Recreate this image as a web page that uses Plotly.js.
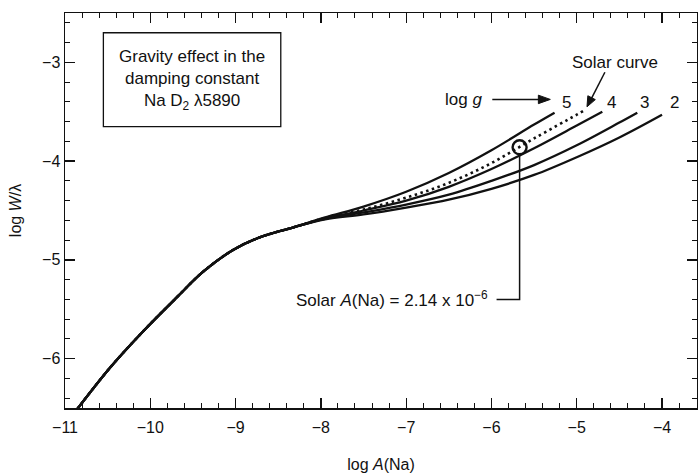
<!DOCTYPE html>
<html>
<head>
<meta charset="utf-8">
<script src="https://cdn.plot.ly/plotly-3.0.1.min.js"></script>
<style>html,body{margin:0;padding:0;background:#fff}#chart{width:698px;height:473px}</style>
</head>
<body>
<div id="chart"></div>
<script>
// Common part of the curve of growth (all log g coincide)
const xCommon = [-10.9, -10.47, -10.08, -9.69, -9.38, -9.03, -8.71, -8.32];
const yCommon = [-6.56, -6.09, -5.72, -5.38, -5.12, -4.90, -4.77, -4.67];

// Branches (log A beyond -8.3)
const xG5 = [-7.95, -7.5, -7.0, -6.5, -6.0, -5.5, -5.26];
const yG5 = [-4.57, -4.46, -4.31, -4.12, -3.89, -3.63, -3.51];
const xSun = [-7.95, -7.5, -7.0, -6.5, -6.0, -5.5, -5.0, -4.92];
const ySun = [-4.575, -4.49, -4.37, -4.22, -4.02, -3.77, -3.53, -3.49];
const xG4 = [-7.95, -7.5, -7.0, -6.5, -6.0, -5.5, -5.0, -4.70];
const yG4 = [-4.58, -4.50, -4.40, -4.26, -4.08, -3.87, -3.64, -3.50];
const xG3 = [-7.95, -7.5, -7.0, -6.5, -6.0, -5.5, -5.0, -4.5, -4.29];
const yG3 = [-4.585, -4.52, -4.44, -4.34, -4.20, -4.04, -3.84, -3.61, -3.51];
const xG2 = [-7.95, -7.5, -7.0, -6.5, -6.0, -5.5, -5.0, -4.5, -4.0];
const yG2 = [-4.59, -4.54, -4.47, -4.39, -4.28, -4.14, -3.96, -3.76, -3.53];

const logGLabels = ['5', '4', '3', '2'];
const solarLogA = -5.67;   // log(2.14e-6)
const solarLogW = -3.86;

const K = '#111';
const FONT = 'Liberation Sans, Arial, Helvetica, sans-serif';

function curve(bx, by, dash) {
  return {
    x: xCommon.concat(bx), y: yCommon.concat(by),
    mode: 'lines', type: 'scatter', hoverinfo: 'skip',
    line: {color: K, width: dash ? 2.6 : 2.3, dash: dash || 'solid', shape: 'spline', smoothing: 1}
  };
}

const traces = [
  curve(xSun, ySun, '2.5px,3.5px'),
  curve(xG5, yG5), curve(xG4, yG4), curve(xG3, yG3), curve(xG2, yG2),
  {x: [solarLogA], y: [solarLogW], mode: 'markers', type: 'scatter', hoverinfo: 'skip',
   marker: {symbol: 'circle-open', size: 14, color: K, line: {width: 2.4, color: K}}}
];

const annotations = [
  {x: -9.51, y: -3.175, xref: 'x', yref: 'y', showarrow: false,
   text: 'Gravity effect in the<br>damping constant<br>Na D<sub>2</sub> λ5890',
   font: {family: FONT, size: 17, color: K}, align: 'center'},
  {x: -6.02, y: -5.40, xref: 'x', yref: 'y', xanchor: 'right', showarrow: false,
   text: 'Solar <i>A</i>(Na) = 2.14 x 10<sup>−6</sup>', font: {family: FONT, size: 17, color: K}},
  {x: -6.33, y: -3.38, xref: 'x', yref: 'y', showarrow: false,
   text: 'log <i>g</i>', font: {family: FONT, size: 17, color: K}},
  {x: -4.55, y: -3.0, xref: 'x', yref: 'y', showarrow: false,
   text: 'Solar curve', font: {family: FONT, size: 17, color: K}}
];
const labelX = [-5.115, -4.59, -4.20, -3.85];
logGLabels.forEach((t, i) => annotations.push({
  x: labelX[i], y: -3.405, xref: 'x', yref: 'y', showarrow: false, text: t,
  font: {family: FONT, size: 17, color: K}
}));

const shapes = [
  {type: 'rect', xref: 'x', yref: 'y', x0: -10.55, x1: -8.47, y0: -2.70, y1: -3.65,
   line: {color: K, width: 1.3}},
  {type: 'path', xref: 'x', yref: 'y',
   path: 'M ' + solarLogA + ',' + (solarLogW - 0.07) + ' L ' + solarLogA + ',-5.40 L -5.94,-5.40',
   line: {color: K, width: 1.5}},
  // "log g" arrow
  {type: 'line', xref: 'x', yref: 'y', x0: -5.99, y0: -3.375, x1: -5.42, y1: -3.375,
   line: {color: K, width: 1.5}},
  {type: 'path', xref: 'x', yref: 'y', path: 'M -5.31,-3.375 L -5.45,-3.332 L -5.45,-3.418 Z',
   fillcolor: K, line: {color: K, width: 1}},
  // "Solar curve" arrow
  {type: 'line', xref: 'x', yref: 'y', x0: -4.67, y0: -3.10, x1: -4.83, y1: -3.37,
   line: {color: K, width: 1.5}},
  {type: 'path', xref: 'x', yref: 'y', path: 'M -4.88,-3.45 L -4.782,-3.377 L -4.870,-3.338 Z',
   fillcolor: K, line: {color: K, width: 1}}
];

const axisCommon = {
  showgrid: false, zeroline: false, showline: true, linecolor: K, linewidth: 1.5,
  mirror: 'ticks', ticks: 'inside', ticklen: 10, tickwidth: 1.3, tickcolor: K,
  dtick: 1, tickfont: {family: FONT, size: 16, color: K},
  minor: {dtick: 0.2, ticks: 'inside', ticklen: 5, tickwidth: 1, tickcolor: K, showgrid: false},
  automargin: false
};

const layout = {
  width: 698, height: 473,
  margin: {l: 65, r: 1, t: 13, b: 65},
  paper_bgcolor: '#fff', plot_bgcolor: '#fff', showlegend: false,
  xaxis: Object.assign({}, axisCommon, {range: [-11, -3.59], tick0: -11, ticklabelstandoff: 4,
    title: {text: 'log <i>A</i>(Na)', font: {family: FONT, size: 16, color: K}, standoff: 24}}),
  yaxis: Object.assign({}, axisCommon, {range: [-6.5, -2.5], tick0: -3,
    title: {text: 'log <i>W</i>/λ', font: {family: FONT, size: 16, color: K}, standoff: 16}}),
  annotations: annotations, shapes: shapes
};

Plotly.newPlot('chart', traces, layout, {staticPlot: true, displayModeBar: false});
</script>
</body>
</html>
